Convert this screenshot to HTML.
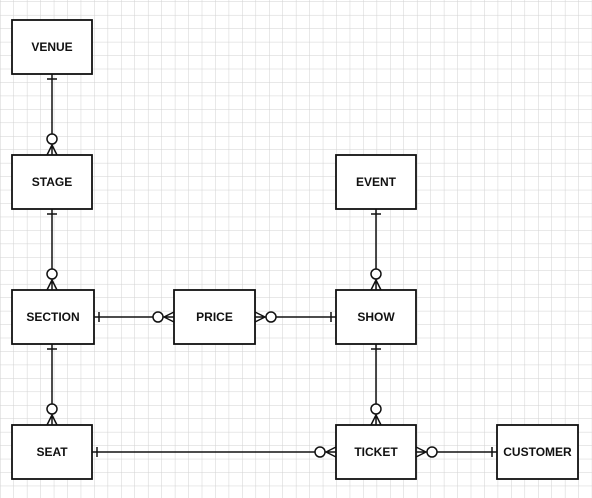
<!DOCTYPE html>
<html><head><style>
html,body{margin:0;padding:0;background:#fff;}
svg{display:block}
text{font-family:"Liberation Sans",sans-serif;font-size:12px;font-weight:bold;fill:#111;text-anchor:middle;dominant-baseline:central}
</style></head><body>
<svg width="592" height="498" viewBox="0 0 592 498" xmlns="http://www.w3.org/2000/svg">
<defs>
<pattern id="g" width="13.45" height="13.45" patternUnits="userSpaceOnUse" x="0.5" y="2">
<path d="M13.45 0V13.45M0 13.45H13.45" stroke="#d2d2d2" stroke-width="1" fill="none"/>
</pattern>
</defs>
<rect width="592" height="498" fill="url(#g)"/>
<g stroke="#111" stroke-width="1.8" fill="#fff">
<rect x="12" y="20" width="80" height="54"/>
<rect x="12" y="155" width="80" height="54"/>
<rect x="12" y="290" width="82" height="54"/>
<rect x="174" y="290" width="81" height="54"/>
<rect x="336" y="155" width="80" height="54"/>
<rect x="336" y="290" width="80" height="54"/>
<rect x="12" y="425" width="80" height="54"/>
<rect x="336" y="425" width="80" height="54"/>
<rect x="497" y="425" width="81" height="54"/>
</g>
<g stroke="#111" stroke-width="1.5" fill="none">
<path d="M52 74V155M47 79H57M52 145L47 155M52 145L57 155"/><circle cx="52" cy="139" r="5" fill="#fff"/>
<path d="M52 209V290M47 214H57M52 280L47 290M52 280L57 290"/><circle cx="52" cy="274" r="5" fill="#fff"/>
<path d="M52 344V425M47 349H57M52 415L47 425M52 415L57 425"/><circle cx="52" cy="409" r="5" fill="#fff"/>
<path d="M376 209V290M371 214H381M376 280L371 290M376 280L381 290"/><circle cx="376" cy="274" r="5" fill="#fff"/>
<path d="M376 344V425M371 349H381M376 415L371 425M376 415L381 425"/><circle cx="376" cy="409" r="5" fill="#fff"/>
<path d="M94 317H174M99 312V322M164 317L174 312M164 317L174 322"/><circle cx="158" cy="317" r="5" fill="#fff"/>
<path d="M255 317H336M331 312V322M265 317L255 312M265 317L255 322"/><circle cx="271" cy="317" r="5" fill="#fff"/>
<path d="M92 452H336M97 447V457M326 452L336 447M326 452L336 457"/><circle cx="320" cy="452" r="5" fill="#fff"/>
<path d="M416 452H497M492 447V457M426 452L416 447M426 452L416 457"/><circle cx="432" cy="452" r="5" fill="#fff"/>
</g>
<text x="52" y="47">VENUE</text>
<text x="52" y="182">STAGE</text>
<text x="53" y="317">SECTION</text>
<text x="214.5" y="317">PRICE</text>
<text x="376" y="182">EVENT</text>
<text x="376" y="317">SHOW</text>
<text x="52" y="452">SEAT</text>
<text x="376" y="452">TICKET</text>
<text x="537.5" y="452">CUSTOMER</text>
</svg>
</body></html>
